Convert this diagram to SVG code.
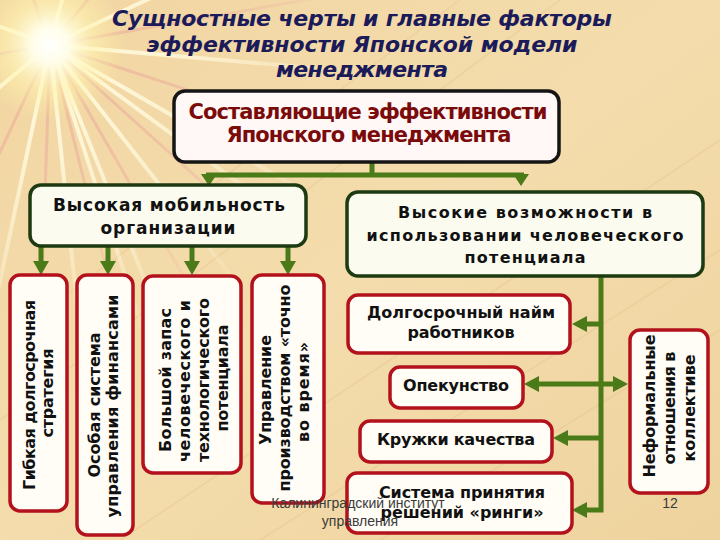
<svg xmlns="http://www.w3.org/2000/svg" width="720" height="540" viewBox="0 0 720 540">
<defs>
<style>
.title{font-family:"DejaVu Sans","Liberation Sans",sans-serif;font-weight:bold;font-style:italic;font-size:22px;fill:#1b1b5a;text-anchor:middle}
.top{font-family:"DejaVu Sans","Liberation Sans",sans-serif;font-weight:bold;font-size:21px;fill:#7b0b0b;text-anchor:middle}
.g{font-family:"DejaVu Sans","Liberation Sans",sans-serif;font-weight:bold;font-size:17px;fill:#111;text-anchor:middle}
.t{font-family:"DejaVu Sans","Liberation Sans",sans-serif;font-weight:bold;font-size:16px;fill:#111;text-anchor:middle}
.boxTop{fill:#fff8f6;stroke:#151515;stroke-width:3.5}
.boxG{fill:#fbfbf0;stroke:#1d3a10;stroke-width:3.5}
.boxR{fill:#fffdf6;stroke:#b3121c;stroke-width:3.5}
.ln{fill:none;stroke:#4b7a18;stroke-width:5}
.hd{fill:#4b7a18}
.foot{font-family:"Liberation Sans",Arial,sans-serif;font-size:14px;fill:#3a3a3a;text-anchor:middle}
.ray{stroke-linecap:round}
</style>
<linearGradient id="bg" x1="0" y1="0" x2="1" y2="1">
<stop offset="0" stop-color="#f2d6a3"/>
<stop offset="0.5" stop-color="#f4dcac"/>
<stop offset="1" stop-color="#eed39e"/>
</linearGradient>
<radialGradient id="fade" cx="50" cy="45" r="320" gradientUnits="userSpaceOnUse">
<stop offset="0" stop-color="#fff"/>
<stop offset="0.35" stop-color="#fff" stop-opacity="0.85"/>
<stop offset="1" stop-color="#000"/>
</radialGradient>
<mask id="rm"><rect width="720" height="540" fill="url(#fade)"/></mask>
<radialGradient id="glow" cx="50" cy="45" r="75" gradientUnits="userSpaceOnUse">
<stop offset="0" stop-color="#ffffff"/>
<stop offset="0.25" stop-color="#fffde8"/>
<stop offset="0.6" stop-color="#fff4b0" stop-opacity="0.55"/>
<stop offset="1" stop-color="#fff0a0" stop-opacity="0"/>
</radialGradient>
</defs>
<rect width="720" height="540" fill="url(#bg)"/>
<g stroke="#e6c58c" stroke-width="1.5" opacity="0.45" fill="none">
<path d="M120,540 L720,140"/>
<path d="M260,540 L720,250"/>
<path d="M0,420 L560,0"/>
<path d="M380,540 L720,330"/>
<path d="M60,300 L460,0"/>
</g>
<g mask="url(#rm)">
<g class="ray" stroke="#fffbe0" stroke-width="4" opacity="0.95">
<line x1="50" y1="45" x2="349" y2="71"/>
<line x1="50" y1="45" x2="310" y2="195"/>
<line x1="50" y1="45" x2="235" y2="281"/>
<line x1="50" y1="45" x2="162" y2="323"/>
<line x1="50" y1="45" x2="81" y2="343"/>
<line x1="50" y1="45" x2="-12" y2="338"/>
<line x1="50" y1="45" x2="-180" y2="238"/>
<line x1="50" y1="45" x2="-232" y2="-58"/>
<line x1="50" y1="45" x2="128" y2="-245"/>
<line x1="50" y1="45" x2="322" y2="-82"/>
<line x1="50" y1="45" x2="143" y2="330"/>
<line x1="50" y1="45" x2="292" y2="222"/>
</g>
<g class="ray" stroke="#e9a89c" stroke-width="3" opacity="0.6">
<line x1="50" y1="45" x2="335" y2="138"/>
<line x1="50" y1="45" x2="273" y2="246"/>
<line x1="50" y1="45" x2="200" y2="305"/>
<line x1="50" y1="45" x2="123" y2="336"/>
<line x1="50" y1="45" x2="40" y2="345"/>
<line x1="50" y1="45" x2="-77" y2="317"/>
<line x1="50" y1="45" x2="-245" y2="97"/>
<line x1="50" y1="45" x2="-53" y2="-237"/>
<line x1="50" y1="45" x2="243" y2="-185"/>
<line x1="50" y1="45" x2="345" y2="-7"/>
</g>
</g>
<circle cx="50" cy="45" r="75" fill="url(#glow)"/>

<g id="title">
<text class="title" x="362" y="26" textLength="500">Сущностные черты и главные факторы</text>
<text class="title" x="362" y="52" textLength="431">эффективности Японской модели</text>
<text class="title" x="362" y="77" textLength="172">менеджмента</text>
</g>

<g id="connectors">
<path class="ln" d="M372,162 V175 M206,175 H524"/>
<polygon class="hd" points="201,174 217,174 209,186"/>
<polygon class="hd" points="513,174 529,174 521,186"/>
<path class="ln" d="M41,246 V262 M108,246 V262 M192,246 V262 M288,246 V262"/>
<polygon class="hd" points="33,261 49,261 41,275"/>
<polygon class="hd" points="100,261 116,261 108,275"/>
<polygon class="hd" points="184,261 200,261 192,275"/>
<polygon class="hd" points="280,261 296,261 288,275"/>
<path class="ln" d="M601,276 V510 H587 M601,324 H587 M601,438 H568 M538,384 H614"/>
<polygon class="hd" points="587,316 587,332 572,324"/>
<polygon class="hd" points="568,430 568,446 553,438"/>
<polygon class="hd" points="587,502 587,518 572,510"/>
<polygon class="hd" points="539,376 539,392 524,384"/>
<polygon class="hd" points="613,376 613,392 628,384"/>
</g>

<g id="n-top">
<rect class="boxTop" x="174" y="91" width="385" height="71" rx="11"/>
<text class="top" x="368" y="119" textLength="359">Составляющие эффективности</text>
<text class="top" x="369" y="142" textLength="285">Японского менеджмента</text>
</g>

<g id="n-mobility">
<rect class="boxG" x="30" y="185" width="276" height="61" rx="11"/>
<text class="g" x="169" y="211" textLength="232">Высокая мобильность</text>
<text class="g" x="168" y="234" textLength="135">организации</text>
</g>

<g id="n-human">
<rect class="boxG" x="347" y="192" width="356" height="84" rx="11"/>
<text class="t" x="525" y="218" textLength="254">Высокие возможности в</text>
<text class="t" x="525" y="241" textLength="317">использовании человеческого</text>
<text class="t" x="525" y="263" textLength="121">потенциала</text>
</g>

<g id="n-strategy">
<rect class="boxR" x="10" y="275" width="57" height="236" rx="10"/>
<text class="t" transform="translate(35,395) rotate(-90)" textLength="190">Гибкая долгосрочная</text>
<text class="t" transform="translate(53,393) rotate(-90)" textLength="89">стратегия</text>
</g>

<g id="n-finance">
<rect class="boxR" x="77" y="275" width="56" height="260" rx="10"/>
<text class="t" transform="translate(100,405) rotate(-90)" textLength="145">Особая система</text>
<text class="t" transform="translate(118,406) rotate(-90)" textLength="223">управления финансами</text>
</g>

<g id="n-reserve">
<rect class="boxR" x="143" y="276" width="98" height="197" rx="10"/>
<text class="t" transform="translate(171,380) rotate(-90)" textLength="144">Большой запас</text>
<text class="t" transform="translate(190,381) rotate(-90)" textLength="162">человеческого и</text>
<text class="t" transform="translate(209,380) rotate(-90)" textLength="164">технологического</text>
<text class="t" transform="translate(228,378) rotate(-90)" textLength="107">потенциала</text>
</g>

<g id="n-jit">
<rect class="boxR" x="252" y="275" width="72" height="228" rx="10"/>
<text class="t" transform="translate(271,390) rotate(-90)" textLength="110">Управление</text>
<text class="t" transform="translate(290,388) rotate(-90)" textLength="207">производством «точно</text>
<text class="t" transform="translate(309,392) rotate(-90)" textLength="100">во время»</text>
</g>

<g id="n-hiring">
<rect class="boxR" x="348" y="295" width="222" height="58" rx="10"/>
<text class="t" x="461" y="318" textLength="188">Долгосрочный найм</text>
<text class="t" x="461" y="338" textLength="107">работников</text>
</g>

<g id="n-mentor">
<rect class="boxR" x="390" y="367" width="133" height="41" rx="10"/>
<text class="t" x="456" y="391" textLength="106">Опекунство</text>
</g>

<g id="n-quality">
<rect class="boxR" x="360" y="421" width="192" height="41" rx="10"/>
<text class="t" x="456" y="445" textLength="158">Кружки качества</text>
</g>

<g id="n-ringi">
<rect class="boxR" x="347" y="473" width="225" height="60" rx="10"/>
<text class="t" x="462" y="498" textLength="166">Система принятия</text>
<text class="t" x="462" y="518" textLength="163">решений «ринги»</text>
</g>

<g id="n-informal">
<rect class="boxR" x="630" y="330" width="78" height="163" rx="10"/>
<text class="t" transform="translate(655,406) rotate(-90)" textLength="143">Неформальные</text>
<text class="t" transform="translate(675,408) rotate(-90)" textLength="113">отношения в</text>
<text class="t" transform="translate(695,408) rotate(-90)" textLength="107">коллективе</text>
</g>

<g id="footer">
<text class="foot" x="358" y="508">Калининградский институт</text>
<text class="foot" x="360" y="526">управления</text>
<text class="foot" x="670" y="508">12</text>
</g>
</svg>
